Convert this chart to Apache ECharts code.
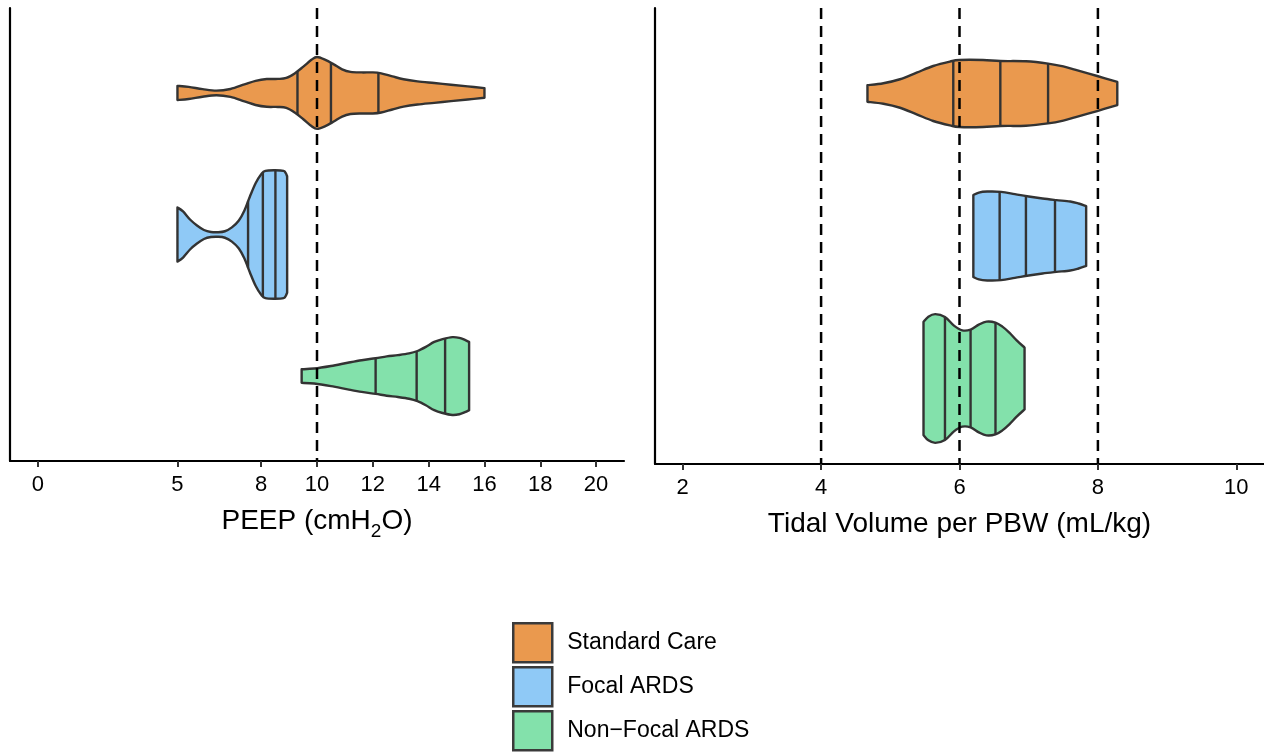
<!DOCTYPE html>
<html><head><meta charset="utf-8">
<script src="https://cdn.jsdelivr.net/npm/echarts@6/dist/echarts.min.js"></script>
<style>html,body{margin:0;padding:0;background:#fff}#c{width:1264px;height:754px}</style>
</head><body><div id="c"></div>
<script>
// ---------- data ----------
const groups = ['Standard Care', 'Focal ARDS', 'Non\u2212Focal ARDS'];
const groupPos = [3, 2, 1];
const colors = ['#EA994E', '#8FC9F6', '#83E1AB'];

// PEEP panel: violin profile = value positions (cmH2O) + half widths (fraction of group spacing)
const peepStdX = [5.0,5.4,5.9,6.4,6.9,7.4,7.8,8.2,8.6,8.9,9.2,9.5,9.8,10.0,10.3,10.6,10.9,11.2,11.6,12.0,12.3,12.7,13.1,13.6,14.2,14.8,15.4,16.0];
const peepStdW = [.050,.043,.027,.016,.028,.060,.085,.098,.099,.106,.138,.184,.234,.254,.234,.202,.167,.149,.145,.145,.138,.117,.097,.082,.070,.058,.046,.034];
const peepStdQ = [9.3, 10.5, 12.2];

const peepFocX = [5.0,5.2,5.45,5.7,5.95,6.2,6.45,6.7,6.95,7.2,7.4,7.6,7.8,8.0,8.15,8.5,8.8,8.88,8.93];
const peepFocW = [.191,.163,.106,.064,.032,.018,.016,.023,.050,.099,.170,.270,.362,.426,.450,.454,.450,.433,.411];
const peepFocQ = [7.53, 8.06, 8.51];

const peepNonX = [9.45,9.9,10.5,11.1,11.6,12.1,12.5,12.9,13.3,13.6,13.9,14.2,14.5,14.85,15.1,15.3,15.45];
const peepNonW = [.048,.053,.071,.094,.112,.126,.139,.148,.160,.177,.206,.241,.261,.275,.270,.255,.241];
const peepNonQ = [12.1, 13.57, 14.59];

// Tidal volume panel
const vtStdX = [4.67,4.90,5.14,5.38,5.62,5.86,6.0,6.34,6.59,6.96,7.28,7.5,7.68,7.99,8.28];
const vtStdW = [.058,.072,.100,.146,.193,.224,.235,.235,.228,.226,.210,.190,.166,.123,.081];
const vtStdQ = [5.91, 6.59, 7.28];

const vtFocX = [6.20,6.28,6.4,6.6,6.8,7.0,7.2,7.4,7.6,7.72,7.83];
const vtFocW = [.287,.305,.312,.310,.294,.277,.263,.252,.242,.228,.210];
const vtFocQ = [6.58, 6.96, 7.38];

const vtNonX = [5.48,5.55,5.65,5.79,5.92,6.04,6.16,6.28,6.39,6.52,6.62,6.72,6.83,6.94];
const vtNonW = [.397,.434,.452,.432,.371,.338,.343,.378,.399,.392,.364,.322,.266,.217];
const vtNonQ = [5.79, 6.16, 6.52];

// reference lines
const peepRef = [10];
const vtRef = [4, 6, 8];

// axis ticks
const peepTicks = [0, 5, 8, 10, 12, 14, 16, 18, 20];
const vtTicks = [2, 4, 6, 8, 10];

// ---------- drawing helpers ----------
const FONT = 'Liberation Sans, Arial, sans-serif';
function smoothSeg(pts) {
  let d = '';
  for (let i = 0; i < pts.length - 1; i++) {
    const p0 = pts[i - 1] || pts[i], p1 = pts[i], p2 = pts[i + 1], p3 = pts[i + 2] || pts[i + 1];
    const c1 = [p1[0] + (p2[0] - p0[0]) / 6, p1[1] + (p2[1] - p0[1]) / 6];
    const c2 = [p2[0] - (p3[0] - p1[0]) / 6, p2[1] - (p3[1] - p1[1]) / 6];
    d += ' C' + c1[0] + ',' + c1[1] + ' ' + c2[0] + ',' + c2[1] + ' ' + p2[0] + ',' + p2[1];
  }
  return d;
}
function widthAt(xs, ws, q) {
  for (let i = 0; i < xs.length - 1; i++) {
    if (q >= xs[i] && q <= xs[i + 1]) {
      const t = (q - xs[i]) / (xs[i + 1] - xs[i]);
      return ws[i] + t * (ws[i + 1] - ws[i]);
    }
  }
  return 0;
}
function violin(panel, g, xs, ws, qs) {
  return {
    type: 'custom', name: groups[g], xAxisIndex: panel, yAxisIndex: panel, z: 2,
    itemStyle: { color: colors[g] },
    data: [[xs[0], groupPos[g]]],
    silent: true,
    renderItem: function (params, api) {
      const pos = groupPos[g];
      const unit = Math.abs(api.size([0, 1])[1]);
      const top = xs.map((x, i) => { const c = api.coord([x, pos]); return [c[0], c[1] - ws[i] * unit]; });
      const bot = xs.map((x, i) => { const c = api.coord([x, pos]); return [c[0], c[1] + ws[i] * unit]; }).reverse();
      let d = 'M' + top[0][0] + ',' + top[0][1] + smoothSeg(top) +
        ' L' + bot[0][0] + ',' + bot[0][1] + smoothSeg(bot) + ' Z';
      const children = [{
        type: 'path', shape: { pathData: d },
        style: { fill: colors[g], stroke: '#333333', lineWidth: 2.4, lineJoin: 'round' }
      }];
      qs.forEach(q => {
        const w = widthAt(xs, ws, q);
        const c = api.coord([q, pos]);
        children.push({
          type: 'line',
          shape: { x1: c[0], y1: c[1] - w * unit, x2: c[0], y2: c[1] + w * unit },
          style: { stroke: '#333333', lineWidth: 2.4 }
        });
      });
      return { type: 'group', children: children };
    }
  };
}
function refLines(panel, vals) {
  return {
    type: 'custom', xAxisIndex: panel, yAxisIndex: panel, z: 5, silent: true,
    data: vals.map(v => [v, 2]),
    renderItem: function (params, api) {
      const v = api.value(0);
      const a = api.coord([v, 3.6]), b = api.coord([v, 0.4]);
      return { type: 'line', shape: { x1: a[0], y1: a[1], x2: b[0], y2: b[1] },
        style: { stroke: '#000', lineWidth: 2.5, lineDash: [11, 7] } };
    }
  };
}

const axisLineStyle = { color: '#000', width: 2.2 };
function xAx(idx, min, max, ticks, name) {
  return {
    type: 'value', gridIndex: idx, min: min, max: max,
    splitLine: { show: false },
    axisLine: { show: true, onZero: false, lineStyle: axisLineStyle },
    axisTick: { show: true, length: 6, customValues: ticks, lineStyle: { color: '#333', width: 2 } },
    axisLabel: { customValues: ticks, fontSize: 22, color: '#000', margin: 13, fontFamily: FONT },
    name: name, nameLocation: 'middle', nameGap: 35,
    nameTextStyle: {
      fontSize: 28, color: '#000', fontFamily: FONT, lineHeight: 40,
      rich: { sub: { fontSize: 19, verticalAlign: 'bottom', lineHeight: 40, color: '#000', fontFamily: FONT } }
    }
  };
}
function yAx(idx) {
  return {
    type: 'value', gridIndex: idx, min: 0.4, max: 3.6,
    splitLine: { show: false },
    axisLine: { show: true, onZero: false, lineStyle: axisLineStyle },
    axisTick: { show: false }, axisLabel: { show: false }
  };
}

const option = {
  animation: false,
  backgroundColor: '#fff',
  grid: [
    { left: 10, top: 8, width: 614, height: 453 },
    { left: 655, top: 8, width: 611, height: 456 }
  ],
  xAxis: [
    xAx(0, -1, 21, peepTicks, 'PEEP (cmH{sub|2}O)'),
    xAx(1, 1.6, 10.4, vtTicks, 'Tidal Volume per PBW (mL/kg)')
  ],
  yAxis: [yAx(0), yAx(1)],
  legend: {
    orient: 'vertical', left: 512, top: 622, padding: 0,
    itemWidth: 39, itemHeight: 39, itemGap: 2.5,
    selectedMode: false,
    textStyle: { fontSize: 23, color: '#000', padding: [0, 0, 0, 10], fontFamily: FONT },
    data: groups.map((g, i) => ({ name: g, icon: 'rect', itemStyle: { color: colors[i], borderColor: '#3a3a3a', borderWidth: 2.5 } }))
  },
  series: [
    violin(0, 0, peepStdX, peepStdW, peepStdQ),
    violin(0, 1, peepFocX, peepFocW, peepFocQ),
    violin(0, 2, peepNonX, peepNonW, peepNonQ),
    violin(1, 0, vtStdX, vtStdW, vtStdQ),
    violin(1, 1, vtFocX, vtFocW, vtFocQ),
    violin(1, 2, vtNonX, vtNonW, vtNonQ),
    refLines(0, peepRef),
    refLines(1, vtRef)
  ]
};
const chart = echarts.init(document.getElementById('c'), null, { renderer: 'canvas' });
chart.setOption(option);
</script></body></html>
